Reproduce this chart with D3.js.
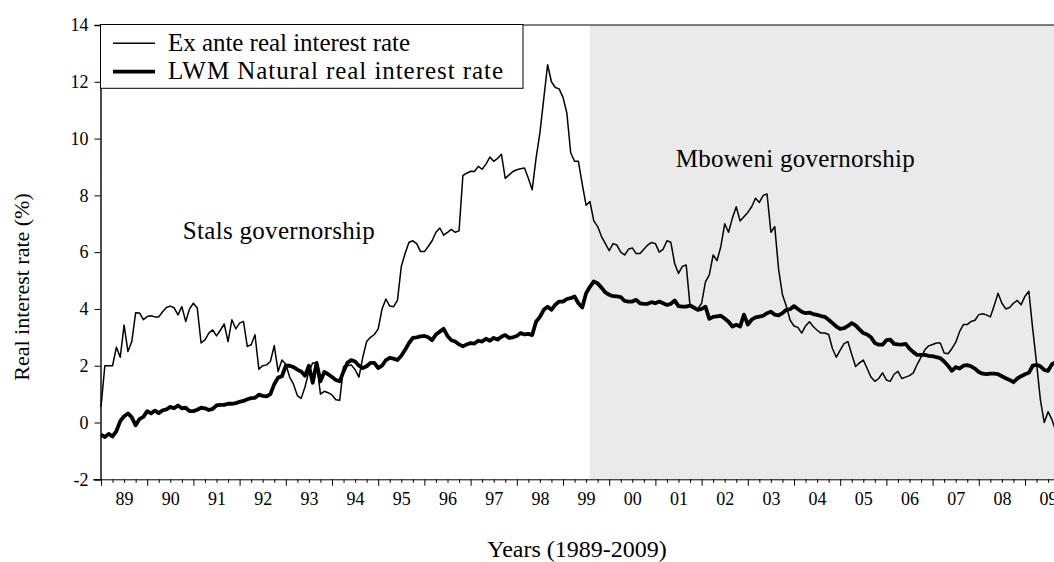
<!DOCTYPE html>
<html><head><meta charset="utf-8">
<script src="https://cdn.jsdelivr.net/npm/d3@7"></script>
<style>
body{margin:0;background:#fff}
svg{display:block}
text{font-family:"Liberation Serif","Times New Roman",serif;fill:#000}
</style>
</head><body>
<svg id="chart" width="1054" height="562"></svg>
<script>
// ---- data (monthly, starting January 1989) ----
const startYear = 1989;
const exAnte = [
  0.55, 2.0, 2.0, 2.0, 2.65, 2.3, 3.43, 2.5, 2.85, 3.87, 3.86, 3.62,
  3.73, 3.76, 3.72, 3.72, 3.9, 4.05, 4.1, 4.04, 3.79, 4.08, 3.56, 4.0,
  4.2, 4.03, 2.8, 2.91, 3.15, 3.26, 3.05, 3.25, 3.47, 2.85, 3.62, 3.3,
  3.5, 3.56, 2.68, 2.74, 3.09, 1.88, 2.0, 2.03, 2.15, 2.71, 1.8, 2.2,
  2.05, 1.6, 1.35, 0.95, 0.85, 1.26, 1.8, 2.1, 2.1, 1.0, 1.1, 1.05,
  0.97, 0.8, 0.78, 1.97, 2.0, 2.03, 1.86, 1.6, 2.3, 2.85, 3.0, 3.1,
  3.3, 4.0, 4.35, 4.1, 4.08, 4.3, 5.5, 5.96, 6.35, 6.4, 6.3, 6.02,
  6.02, 6.2, 6.4, 6.7, 6.85, 6.6, 6.7, 6.8, 6.7, 6.75, 8.7, 8.78,
  8.85, 8.84, 9.02, 8.92, 9.1, 9.35, 9.2, 9.3, 9.45, 8.6, 8.72, 8.84,
  8.9, 8.94, 8.96, 8.6, 8.2, 9.3, 10.2, 11.4, 12.6, 12.0, 11.8, 11.75,
  11.45, 10.9, 9.5, 9.2, 9.2, 8.4, 7.65, 7.78, 7.1, 6.9, 6.55, 6.3,
  6.05, 6.3, 6.25, 6.0, 5.9, 6.1, 6.15, 5.95, 5.95, 6.1, 6.25, 6.34,
  6.3, 6.0, 6.1, 6.4, 6.35, 5.6, 5.25, 5.5, 5.55, 4.1, 4.0, 4.0,
  4.2, 4.95, 5.2, 5.9, 5.7, 6.2, 7.0, 6.7, 7.2, 7.6, 7.1, 7.25,
  7.4, 7.6, 7.9, 7.75, 8.0, 8.05, 6.7, 6.9, 5.4, 4.5, 4.1, 3.6,
  3.4, 3.35, 3.15, 3.4, 3.55, 3.38, 3.25, 3.15, 3.15, 3.1, 2.6, 2.3,
  2.55, 2.78, 2.85, 2.4, 1.97, 2.1, 2.2, 1.9, 1.6, 1.45, 1.55, 1.75,
  1.5, 1.45, 1.7, 1.8, 1.55, 1.6, 1.65, 1.75, 2.05, 2.3, 2.56, 2.7,
  2.75, 2.8, 2.8, 2.45, 2.42, 2.6, 2.82, 3.2, 3.45, 3.45, 3.56, 3.6,
  3.8, 3.83, 3.79, 3.72, 4.12, 4.55, 4.2, 4.0, 4.05, 4.2, 4.3, 4.15,
  4.45, 4.62, 3.3, 2.1, 0.8, 0.0, 0.38, 0.1, -0.3
];
const lwm = [
  -0.43, -0.51, -0.4, -0.49, -0.3, 0.05, 0.22, 0.32, 0.18, -0.1, 0.12, 0.2,
  0.4, 0.32, 0.42, 0.33, 0.43, 0.46, 0.55, 0.5, 0.6, 0.5, 0.52, 0.4,
  0.4, 0.45, 0.52, 0.5, 0.44, 0.48, 0.6, 0.62, 0.62, 0.66, 0.66, 0.68,
  0.73, 0.76, 0.82, 0.86, 0.87, 0.98, 0.94, 0.92, 1.0, 1.35, 1.58, 1.63,
  2.0, 2.0, 1.95, 1.86, 1.8, 1.65, 2.0, 1.4, 2.1, 1.45, 1.78, 1.7,
  1.6, 1.5, 1.45, 1.8, 2.1, 2.2, 2.15, 2.0, 1.92, 1.98, 2.1, 2.1,
  1.92, 2.0, 2.2, 2.28, 2.25, 2.2, 2.35, 2.56, 2.8, 2.98, 3.0, 3.03,
  3.05, 3.0, 2.9, 3.1, 3.2, 3.3, 3.05, 2.9, 2.85, 2.75, 2.68, 2.75,
  2.8, 2.78, 2.88, 2.85, 2.95, 2.88, 2.98, 2.92, 3.02, 3.08, 2.98, 3.0,
  3.05, 3.15, 3.1, 3.12, 3.08, 3.55, 3.72, 3.97, 4.08, 3.97, 4.15, 4.26,
  4.26, 4.35, 4.38, 4.44, 4.2, 4.05, 4.55, 4.78, 4.97, 4.9, 4.75, 4.58,
  4.5, 4.45, 4.44, 4.42, 4.28, 4.26, 4.26, 4.32, 4.2, 4.18, 4.18, 4.24,
  4.2, 4.26, 4.2, 4.14, 4.18, 4.3, 4.1, 4.08, 4.08, 4.12, 4.05, 3.97,
  4.0, 4.08, 3.65, 3.72, 3.74, 3.76, 3.66, 3.55, 3.38, 3.44, 3.38, 3.8,
  3.45, 3.62, 3.7, 3.73, 3.76, 3.85, 3.9, 3.8, 3.77, 3.85, 3.97, 3.99,
  4.1, 4.0, 3.9, 3.85, 3.87, 3.82, 3.79, 3.75, 3.72, 3.62, 3.5, 3.38,
  3.3, 3.32, 3.4, 3.5, 3.42, 3.28, 3.15, 3.1, 3.0, 2.8, 2.74, 2.74,
  2.9, 2.92, 2.77, 2.75, 2.74, 2.77, 2.6, 2.48, 2.38, 2.38, 2.38, 2.35,
  2.34, 2.3, 2.27, 2.15, 2.0, 1.82, 1.95, 1.9, 2.0, 2.02, 1.98, 1.9,
  1.78, 1.72, 1.7, 1.72, 1.72, 1.7, 1.63, 1.56, 1.5, 1.42, 1.55, 1.63,
  1.7, 1.75, 2.0, 2.03, 1.98, 1.85, 1.82, 2.05, 2.12
];
const yTicks = [-2, 0, 2, 4, 6, 8, 10, 12, 14];
const yearLabels = ["89","90","91","92","93","94","95","96","97","98","99",
                    "00","01","02","03","04","05","06","07","08","09"];
const seriesNames = ["Ex ante real interest rate", "LWM Natural real interest rate"];
const shadeStart = 1999 + 7 / 12;   // Mboweni governorship from Aug 1999
const annotations = [
  {text: "Stals governorship", t: 1990.77, v: 6.45, len: 192},
  {text: "Mboweni governorship", t: 2001.44, v: 9.0, len: 239}
];

// ---- layout ----
const W = 1054, H = 562;
const svg = d3.select("#chart");
const x = d3.scaleLinear().domain([1989, 2010]).range([101, 1071.2]);
const y = d3.scaleLinear().domain([-2, 14]).range([479.3, 25]);
const tOf = i => startYear + i / 12;

// shaded governorship area
svg.append("rect")
  .attr("x", x(shadeStart)).attr("y", y(14))
  .attr("width", W - x(shadeStart)).attr("height", y(-2) - y(14))
  .attr("fill", "#eaeaea");

// lines
const line = d3.line().x((d, i) => x(tOf(i))).y(d => y(d));
svg.append("path").datum(exAnte).attr("d", line)
  .attr("fill", "none").attr("stroke", "#000").attr("stroke-width", 1.5)
  .attr("stroke-linejoin", "round");
svg.append("path").datum(lwm).attr("d", line)
  .attr("fill", "none").attr("stroke", "#000").attr("stroke-width", 3.8)
  .attr("stroke-linejoin", "round");

// top frame
svg.append("line").attr("x1", 100).attr("x2", W)
  .attr("y1", y(14)).attr("y2", y(14)).attr("stroke", "#000").attr("stroke-width", 1);

// y axis
const yAxis = svg.append("g").attr("transform", "translate(100.5,0)")
  .call(d3.axisLeft(y).tickValues(yTicks).tickSize(6).tickPadding(6).tickFormat(d => String(d)));
yAxis.select(".domain").attr("stroke-width", 1.4);
yAxis.selectAll("text").attr("font-size", 18).attr("font-family", "Liberation Serif");

// x axis: majors at year starts, minors quarterly, labels at mid-year
const years = d3.range(1989, 2010);
const xMajor = svg.append("g").attr("transform", `translate(0,${y(-2)})`)
  .call(d3.axisBottom(x).tickValues(years).tickSize(6.5).tickFormat(""));
xMajor.select(".domain").attr("d", `M93,0.5H${W}`);
const quarters = [];
years.forEach(yr => [0.25, 0.5, 0.75].forEach(q => quarters.push(yr + q)));
svg.append("g").attr("transform", `translate(0,${y(-2)})`)
  .call(d3.axisBottom(x).tickValues(quarters).tickSize(3.5).tickFormat(""))
  .select(".domain").remove();
const xLab = svg.append("g").attr("transform", `translate(0,${y(-2)})`)
  .call(d3.axisBottom(x).tickValues(years.map(v => v + 0.5)).tickSize(0).tickPadding(13)
    .tickFormat((d, i) => yearLabels[i]));
xLab.select(".domain").remove();
xLab.selectAll("text").attr("font-size", 18).attr("font-family", "Liberation Serif");

// annotations
svg.selectAll("text.ann").data(annotations).enter().append("text")
  .attr("class", "ann").attr("x", d => x(d.t)).attr("y", d => y(d.v))
  .attr("font-size", 25).attr("textLength", d => d.len).attr("lengthAdjust", "spacing")
  .text(d => d.text);

// axis titles
svg.append("text").attr("transform", "translate(28.5,287) rotate(-90)")
  .attr("text-anchor", "middle").attr("font-size", 22).text("Real interest rate (%)");
svg.append("text").attr("x", 577).attr("y", 557)
  .attr("text-anchor", "middle").attr("font-size", 24).text("Years (1989-2009)");

// legend
const lg = svg.append("g");
lg.append("rect").attr("x", 100.5).attr("y", 24.5).attr("width", 422.5).attr("height", 63.8)
  .attr("fill", "#fff").attr("stroke", "#000").attr("stroke-width", 1);
const legendRows = [
  {name: seriesNames[0], w: 1.5, cy: 43.3, base: 50.5, len: 242},
  {name: seriesNames[1], w: 3.8, cy: 71.7, base: 79, len: 335}
];
legendRows.forEach(r => {
  lg.append("line").attr("x1", 113).attr("x2", 155).attr("y1", r.cy).attr("y2", r.cy)
    .attr("stroke", "#000").attr("stroke-width", r.w);
  lg.append("text").attr("x", 168).attr("y", r.base).attr("font-size", 25)
    .attr("textLength", r.len).attr("lengthAdjust", "spacing").text(r.name);
});
</script>
</body></html>
